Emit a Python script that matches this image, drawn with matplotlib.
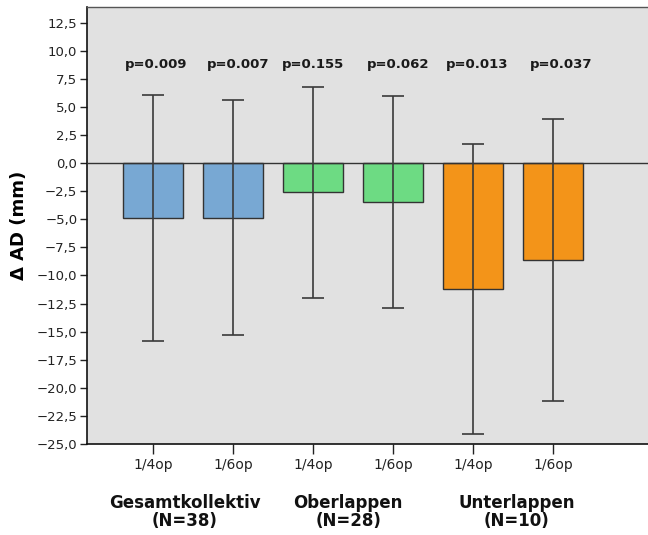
import matplotlib
matplotlib.use("Agg")
import matplotlib.pyplot as plt
import numpy as np

# Mean change in AD (mm) with error bar half-widths
conditions = ["1/4op", "1/6op", "1/4op", "1/6op", "1/4op", "1/6op"]
means = [-4.87, -4.85, -2.58, -3.47, -11.2, -8.62]
errors = [10.95, 10.44, 9.38, 9.46, 12.88, 12.54]
p_values = ["p=0.009", "p=0.007", "p=0.155", "p=0.062", "p=0.013", "p=0.037"]
groups = ["Gesamtkollektiv\n(N=38)", "Oberlappen\n(N=28)", "Unterlappen\n(N=10)"]
group_colors = ["#78A8D3", "#6DDB83", "#F39419"]
y_ticks = np.arange(-25, 12.6, 2.5)

fig = plt.figure(figsize=(6.48, 5.35), dpi=100)
ax = fig.add_axes([0.1343, 0.1701, 0.8657, 0.8174])
ax.set_facecolor("#E1E1E1")

x = np.arange(len(means))
colors = [group_colors[i // 2] for i in range(len(means))]
ax.bar(x, means, width=0.75, color=colors, edgecolor="#333333", linewidth=1.0, zorder=2)
ax.axhline(0, color="#333333", linewidth=1.0, zorder=3)
ax.errorbar(x, means, yerr=errors, fmt="none", ecolor="#3a3a3a", elinewidth=1.2,
            capsize=8, capthick=1.2, zorder=4)

p_shift = [0.04, 0.06, 0.0, 0.06, 0.05, 0.1]
for xi, dx, p in zip(x, p_shift, p_values):
    ax.text(xi + dx, 8.75, p, ha="center", va="center", fontsize=9.5, fontweight="bold",
            color="#1a1a1a")

ax.set_xlim(-0.825, 6.19)
ax.set_ylim(-25, 13.93)
ax.set_yticks(y_ticks)
ax.set_yticklabels([f"{v:.1f}".replace(".", ",").replace("-", "\u2212") for v in y_ticks],
                   fontsize=9.5)
ax.set_xticks(x)
ax.set_xticklabels(conditions, fontsize=10)
ax.tick_params(axis="y", direction="out", length=5, width=1, pad=2, colors="#222222")
ax.tick_params(axis="x", direction="out", length=7, width=1, pad=3, colors="#222222")

for s in ["left", "bottom"]:
    ax.spines[s].set_color("#111111")
    ax.spines[s].set_linewidth(1.2)
ax.spines["top"].set_color("#555555")
ax.spines["top"].set_linewidth(1.0)
ax.spines["right"].set_visible(False)

ax.set_ylabel("\u0394 AD (mm)", fontsize=13, fontweight="bold", labelpad=6)

group_x = [0.4, 2.44, 4.55]
for gx, label in zip(group_x, groups):
    fig.text(ax.transData.transform((gx, 0))[0] / fig.bbox.width, 0.043, label,
             ha="center", va="center", fontsize=12, fontweight="bold",
             linespacing=0.95, color="#111111")

fig.savefig("out.png", dpi=100)
